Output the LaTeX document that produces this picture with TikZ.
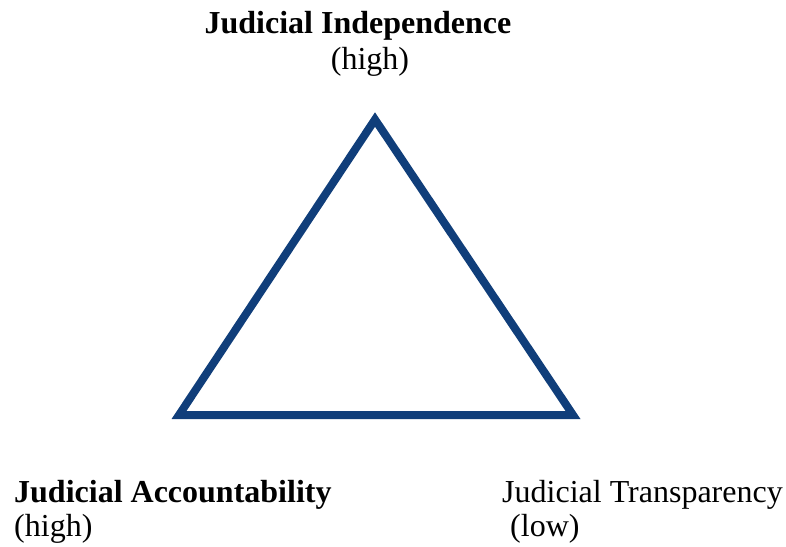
\documentclass[tikz,border=0pt]{standalone}
\usepackage{fontspec}
\setmainfont{Liberation Serif}
\usetikzlibrary{positioning}
\definecolor{triblue}{RGB}{16,62,122}
\tikzset{%
	corner/.style   = {coordinate},
	label/.style    = {inner sep=0pt, font=\fontsize{32}{36}\selectfont},
	boldlabel/.style = {label, font=\fontsize{32}{36}\selectfont\bfseries},
	edge/.style     = {draw=triblue, line width=8pt, miter limit=10},
}

\begin{document}
\begin{tikzpicture}[x=1pt,y=-1pt]
	\useasboundingbox (0,0) rectangle (786,546);
	% corners of the triangle
	\coordinate (top) at (375,119.5);
	\coordinate (left) at (179,415);
	\coordinate (right) at (573,415);
	
	\draw[edge] (top) -- (left) -- (right) -- cycle;
	
	% labels at the three corners
	\node [boldlabel,anchor=base] (indep) at (358,33) {Judicial Independence};
	\node [label,anchor=base] (indeplevel) at (370,69) {(high)};
	\node [boldlabel,anchor=base west] (acc) at (14,502) {Judicial Accountability};
	\node [label,anchor=base west] (acclevel) at (14,536) {(high)};
	\node [label,anchor=base west] (trans) at (502,502) {Judicial Transparency};
	\node [label,anchor=base west] (translevel) at (510,536) {(low)};
\end{tikzpicture}
\end{document}
